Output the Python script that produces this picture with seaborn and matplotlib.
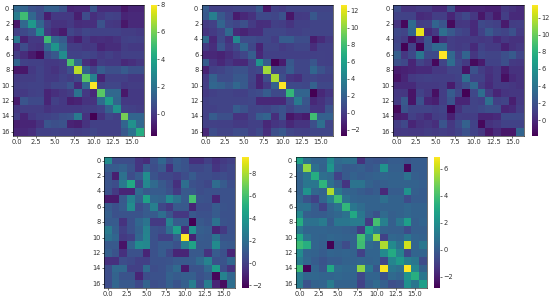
import numpy as np
import matplotlib
matplotlib.use('Agg')
import matplotlib.pyplot as plt
import seaborn as sns

panel_1 = [
    [1.6,1.5,0.8,0.6,1.3,1.3,0.8,-0.6,-0.5,-0.5,0.9,-0.4,-0.4,-0.4,-1,-0.6,-0.6],
    [2.4,5,1.6,0.6,-0.8,0,0,0,-0.8,0.6,-0.3,0,0.3,0.2,-0.6,-0.5,-0.5],
    [-1,1.6,3.5,1.5,0.2,-0.2,-0.2,0,-0.4,-0.3,-0.3,0.8,0,-0.1,-1,-0.5,-0.5],
    [0.2,0.5,0.9,3,0,-0.5,-0.9,0.4,0.1,0.4,0.3,0.3,0.3,0.3,0.1,0.1,0],
    [2.2,-0.7,0,0,5,1.6,1.1,-0.4,-0.8,0,-0.4,-0.3,-0.4,-0.2,0.2,0.3,0.2],
    [-0.3,0.6,-0.1,-0.2,1.6,3.4,1.6,0.1,0.1,-0.1,0,-0.6,-0.4,-0.4,0.1,0,0],
    [0.1,-0.4,-0.9,-1.4,0.5,1,3,0.3,0.3,0.4,0.3,0,0.2,0,0.2,0.2,0.2],
    [1.5,0.3,0.2,0.2,0,0,0.1,5.2,1.6,-0.3,-0.7,0.1,0,0,-0.5,-0.3,-0.1],
    [-1,-1,0,0.3,0,-0.2,0.1,0.7,7,1.3,0.3,1.2,0.7,0.7,1.1,0.7,0.7],
    [0,0.1,0.1,0.3,0,0,0.3,0.1,0.5,5.5,2.6,-0.7,0.2,0.2,0.2,0,0],
    [0.1,0.2,0.3,0.3,0.1,0.4,0.4,0.9,-0.5,1.6,8,0.2,0.4,0.4,0,0.1,0.1],
    [0,0,0.2,0.3,-0.6,-0.3,-0.1,0.1,2,0,-0.5,5.5,1.6,1.6,-1,0,0],
    [-0.9,0.9,0.5,0.5,-0.6,0.2,0,-0.8,-0.7,-0.2,-0.2,1.7,3.6,1.5,0,0,0],
    [-0.1,0.1,0.1,0.1,-0.2,0,0,0,0,0.1,0.1,0.3,1.3,3.2,0.3,0.2,0.1],
    [0.1,-0.6,0,0.2,0.3,0.4,0.7,0.8,2.3,-0.2,-1.6,-0.2,0.4,0.2,6,1.5,1.5],
    [-0.8,-0.6,-0.6,-0.2,0.9,0.7,0.8,-0.7,-0.8,-0.2,0.2,0.2,0.2,0.2,1.5,3.2,1.6],
    [-0.6,-0.5,-0.3,0.2,0.2,0.3,0.2,0.2,0.1,0.2,0.4,0.2,0.2,0.2,1,2,4.3],
]
panel_2 = [
    [1.7,0.2,0.2,0.2,0.4,0.4,0.4,1.5,-1.7,0.2,0,0.4,0.4,0.4,0.4,0.4,0.4],
    [1.5,3.8,1.5,0.5,-1.5,-1,-0.5,0.7,0.7,0.5,1.2,-1.8,-0.1,0,1.5,0.6,0.6],
    [0,0.3,2.2,0.8,0.5,1,0,-0.7,-0.6,0.2,0.1,-0.4,0.2,0.2,0.4,0.4,0.4],
    [-0.4,0,0.5,2.5,-0.8,-1.2,-0.7,-0.7,0.5,0.5,0.5,0.2,0.2,0.4,0.4,0.4,0.4],
    [2.5,-1,0.7,-0.5,4.5,0.8,0.8,0.6,0.6,0.1,1.7,1.7,0.9,0.9,-1.5,-0.8,-0.1],
    [-0.1,-0.7,1.3,-0.1,0.7,2.3,0.6,-1.2,0.4,0.4,0,0.2,0.5,0.5,-0.7,0.2,0.2],
    [-1,-1,-1.2,-0.7,0,0.5,1.8,-1,0.2,0.2,0.2,0.2,0.2,0.2,0.2,0.3,0.2],
    [1.8,-0.3,-1,-0.3,-0.9,-1,0.4,5.2,1.8,-2.6,-1.5,1.5,0.5,0.5,1.4,0.3,0.2],
    [-1.2,0.2,0.4,0.8,1.2,1.2,0.4,0.7,10.5,0.6,0.6,1.7,0.5,0.5,2.3,1.2,0.5],
    [0,2,0.8,0.8,1.5,1.5,0.4,-1.2,0.8,10.7,1,-0.3,-0.6,0.4,0.5,0.3,0.3],
    [0.1,2.3,2,1.4,2.4,1.6,0.3,-1.2,-0.1,2,12.7,0.7,0.7,0.6,2,0.6,0.6],
    [-0.1,0.2,0.4,0.4,0.2,0.2,0.7,0.8,1.7,0.7,0.7,7.5,2.2,2.2,-2.7,-1,-0.3],
    [0.2,0.4,0.4,0.4,0.4,0.4,0.5,-1,-1,-1,-1,0.8,3.5,1.4,-1,-0.5,0.2],
    [0.2,0.2,0.4,0.4,1.7,1.2,0.4,0.5,0.4,0.8,1.2,0.4,1.1,1.1,-0.3,-0.4,1.2],
    [0.2,1.7,1,1,-0.4,-0.4,0.4,1.8,2.2,-0.7,1.2,-1.8,-1.2,-1.6,8,2,2],
    [0.2,0.3,0.2,0.2,-0.1,-0.1,0.2,0.2,-1,-0.3,0,-1,-0.4,-0.4,1,2.8,0.4],
    [-1,0.9,0.4,0.4,0.8,0.8,0.2,0.7,-0.6,1,1.5,0.5,0.3,0.2,0.5,0.5,0.5],
]
panel_3 = [
    [1.7,0.5,0.5,0.8,0.8,0,0,1.9,-0.6,-0.6,-0.2,-0.2,-0.4,-0.4,0.7,0.4,0],
    [1.2,1.2,1.2,0,0.2,1,1,-0.2,0.9,1.5,0.7,-0.9,0.4,-0.7,1,0,0],
    [0.5,-1.5,3.4,1,1.1,3.1,2.2,-1.4,0.6,0.7,0,1.6,1.3,1.1,-0.7,0.9,1],
    [1.5,1.3,3.1,13,0,0.8,3.7,2.4,1.5,1.2,0,1.2,2.4,1.6,1.3,2,0.8],
    [1.3,0.8,-1.3,0.4,2.2,-1.7,0.2,1,0.8,0.8,0.8,0.6,0.8,0,0.7,0.4,0.4],
    [1.5,-1.7,1.2,-1.8,2.2,3.4,3.4,1,0.8,1,0,1.2,0.8,0.8,-0.4,0.4,0.7],
    [2.8,0.7,1.6,4.2,1.6,1.6,13.5,3.3,1.2,3.1,0.6,1.5,1.3,1.3,1.9,2.5,1.3],
    [1.9,1.5,-0.2,1.3,0.7,-1.5,1.3,3.6,1.5,0.8,-1.4,-0.7,1.2,1.2,1.9,0.8,0.7],
    [-0.6,-0.4,-0.2,0,0,0.7,0.7,1.3,1.3,-1,2,0.9,0.4,0.8,-0.6,0.4,0.4],
    [-1,-0.2,0.8,1,1.1,1,1,1,1.2,3.7,1.2,1.2,0.2,0.8,-1.2,0,0.4],
    [0,0,0,0.8,0.8,0.8,0.9,-0.7,1,1.8,3.3,0.8,0,0.8,0.8,0.6,0.4],
    [0.7,0.6,-1,1.2,0.6,-1.2,1,2.6,1.4,-1.7,1.5,3.6,0.9,-0.2,0.5,0.6,0.6],
    [0.8,2.4,-1,2,-0.2,-0.5,1,2.2,-0.2,-0.2,1.3,1.1,3.7,1.1,1.3,-0.5,0.7],
    [-1.4,2.1,1.3,1.3,1.3,1.1,1.3,-1.8,0.4,1.3,1.3,1.6,1.9,1.8,-0.2,0,0.9],
    [-0.6,-0.4,1.1,0.6,0,0.9,1.1,-0.4,1,0.9,1,-0.2,-0.2,0,1.6,1.6,1.5],
    [0.9,1.5,-0.2,0.4,0.6,0.2,2.2,0.7,1.6,2.9,1.2,-1.5,0.4,0.7,1.2,1.2,1.2],
    [0.7,0.8,0.7,0.7,0.9,0.8,1,0.8,1.2,2,1.2,0.6,-0.9,0,-0.9,-0.9,3.1],
]
panel_4 = [
    [3.4,0.5,0.5,0.5,-0.4,-0.7,0.7,1.6,0.5,1.1,0.8,-0.6,-0.6,0,-0.6,-0.2,0],
    [1.1,1.1,1.4,0.8,-0.4,1.1,0.5,1,-0.6,1,0.8,0.3,0.3,0.5,-0.4,0,0.3],
    [0.7,-1.2,2.1,0.5,1.1,3.5,0.8,0.3,0.3,0,0.5,1.1,0.5,0.5,0.4,0.5,0.3],
    [0.8,0.5,2.5,4.8,0.3,3.2,1.8,1,0.5,-0.6,2,0.7,0.5,0.3,1.9,1.1,0.5],
    [0.7,-0.2,-1,-1,1.8,1,1.1,1.1,0.7,-0.2,1,1,0.5,0.7,0.7,0.7,0.7],
    [-1.4,-1.4,1,3,1.4,4.5,1.6,1.5,3.3,2.2,1.1,6,0.8,0.7,-1,0.7,0.7],
    [1.1,0.7,1.1,3.5,0.5,1.1,2.8,0.3,-0.3,1,1,-1,0.5,0.5,1.1,0.8,0.7],
    [1.3,0.7,0.8,0.8,0.8,1.1,1.1,2,0.8,-0.3,-0.3,1,0.7,0.7,1.1,0.7,0.7],
    [1.1,1.1,-0.5,0.7,1.6,2.3,-0.2,-0.2,3,1.1,1.1,-2.2,1,0.8,2.2,0.8,0.7],
    [2.6,1.3,0,0.7,1.4,3,0.7,0.5,2,4.3,-0.7,3.8,1.3,1.1,-1,-0.2,0.7],
    [2.2,1.6,-0.2,0,1.6,3.1,0.7,0,0,1.3,9.5,-1.1,1.1,1,2.2,0.8,0.8],
    [1,1,-1.6,1.5,3.4,3.2,0.7,1.1,1.1,0.7,2.8,4.6,1,1,3.4,1.1,1],
    [1.3,0.8,-0.6,0.7,0.7,-1,0.7,1.1,0.3,-1,-1,1,1,-0.5,1.1,0.7,-1],
    [-0.6,-0.6,0.5,0.4,0,0,0.7,0.7,0.8,1,1,1.1,1.8,3,0.7,0.8,1.6],
    [0.5,1.7,1.7,0,0,1.8,0.5,0.7,1.1,1.8,-1.4,0.8,0.8,1.7,4.2,0.5,-0.5],
    [0.5,1.5,0.8,0.8,-1,0.5,0.7,0.7,1.4,1.1,1.3,1.3,0.7,1,-2,3,1.6],
    [0.5,1.6,1,1,0.4,1.5,0.5,0.7,1.3,0.8,1.3,2.7,0.5,2.7,-1,-1.8,2],
]
panel_5 = [
    [2.7,0.8,0.3,0.3,1.8,0.5,0.7,0.7,-1.4,-0.2,-0.3,-0.2,0,0,-0.2,0,0],
    [0.6,5.3,0.7,0.2,2.3,0.3,-0.1,0,0.1,-0.2,0,2.2,0.1,0.1,-2.6,0,0],
    [0.3,1,3.2,0.7,0.5,-0.9,-0.1,0.2,0,0.1,0.2,0.3,0.2,0.2,0.9,0.1,0],
    [0.2,1,1,3.5,0.7,0,-1.3,0.9,0.9,0.2,0,0.1,0.2,0.2,0.2,0.2,0.1],
    [0.2,2.2,0.4,0.2,5.7,1,0.3,0.2,0,-0.2,0,-1.7,0,0,2.1,0.1,0],
    [0.4,-0.3,-0.9,0.3,1.4,3.8,0.8,0.3,0.2,0.2,0.2,0.7,0.2,0.2,-0.6,0,0],
    [0.7,0.8,0,-0.9,0.3,0.8,3.6,1,0.6,0.2,0.2,0.2,0.2,0.2,0.4,0.2,0.2],
    [1.7,0.1,0,0,0.2,0.4,0.8,3,1,0.1,-0.3,0.5,0.1,0.2,0.4,0.2,0.2],
    [3.2,0.8,0.8,1.2,0,1,1,1.2,1.2,-1.1,4,1.4,0.1,1,2.6,0.1,0.3],
    [1,0.3,0.3,0.3,0.2,0.2,0.1,0,-1.1,2.7,1.3,0.2,0.1,0.1,-0.6,0.1,0.1],
    [3,0.9,0.3,0.2,0.4,0.3,0.2,0.2,4,1.4,5.3,-0.9,0.4,0.3,1,0.3,0.2],
    [3.8,3.3,0.3,0.1,-2.8,0,-0.6,0.2,3.9,0.5,0.3,5.7,1.8,0.8,6.2,0.3,1],
    [1.8,0.3,0.2,0,0.3,0.2,0.3,0.2,-0.9,0.3,0.3,1.8,3.1,1.5,-0.7,0.3,0.3],
    [1.2,0.4,0,-0.3,0,0,0.2,0.2,0.3,0.2,0.3,-0.7,1.6,2.4,1.3,1,-0.6],
    [3.8,-2.7,0.3,-0.2,3,0.6,0.4,0.4,5.2,1,-0.2,6.8,1,0.7,6.9,1.6,0.2],
    [1.2,0.4,0.4,0.3,0.3,0.4,0.3,0.3,-0.7,0.3,0.3,-0.4,0.5,0.3,2.2,3.3,1],
    [1.2,-0.3,0.2,0.3,1.2,0.2,0.2,0.2,-0.9,0.1,0.5,0.1,-0.5,-0.3,2,1,2.6],
]

panels = [panel_1, panel_2, panel_3, panel_4, panel_5]
cbar_ticks = [
    [0, 2, 4, 6, 8],
    [-2, 0, 2, 4, 6, 8, 10, 12],
    [0, 2, 4, 6, 8, 10, 12],
    [-2, 0, 2, 4, 6, 8],
    [-2, 0, 2, 4, 6],
]
x_ticks = [0, 2.5, 5, 7.5, 10, 12.5, 15]
y_ticks = list(range(0, 17, 2))

W, H = 550, 299
# left, top of each heatmap and left of each colorbar, in pixels
boxes = [(12.7, 4.7, 150.7), (201.7, 4.7, 340.7), (393, 4.7, 531.7),
         (104, 156.7, 242), (295.7, 156.7, 433.7)]
side = 131
cbar_w = 6.5

plt.rcParams['font.size'] = 4.8
plt.rcParams['axes.linewidth'] = 0.4
plt.rcParams['text.color'] = '#333333'
plt.rcParams['xtick.labelcolor'] = '#333333'
plt.rcParams['ytick.labelcolor'] = '#333333'
fig = plt.figure(figsize=(W / 100, H / 100), dpi=100)

for mat, ticks, (x0, y0, cx) in zip(panels, cbar_ticks, boxes):
    ax = fig.add_axes([x0 / W, 1 - (y0 + side) / H, side / W, side / H])
    cax = fig.add_axes([cx / W, 1 - (y0 + side) / H, cbar_w / W, side / H])
    sns.heatmap(np.array(mat), ax=ax, cbar_ax=cax, cmap='viridis', square=True,
                cbar_kws={'ticks': ticks})
    ax.set_xticks([t + 0.5 for t in x_ticks])
    ax.set_xticklabels([f'{t:.1f}' for t in x_ticks], rotation=0)
    ax.set_yticks([t + 0.5 for t in y_ticks])
    ax.set_yticklabels(y_ticks, rotation=0)
    ax.tick_params(length=1.2, width=0.4, pad=1.2)
    cax.tick_params(length=1.2, width=0.4, pad=1.2)
    for s in ax.spines.values():
        s.set_visible(True)
        s.set_linewidth(0.4)

fig.savefig('out.png', dpi=100)
